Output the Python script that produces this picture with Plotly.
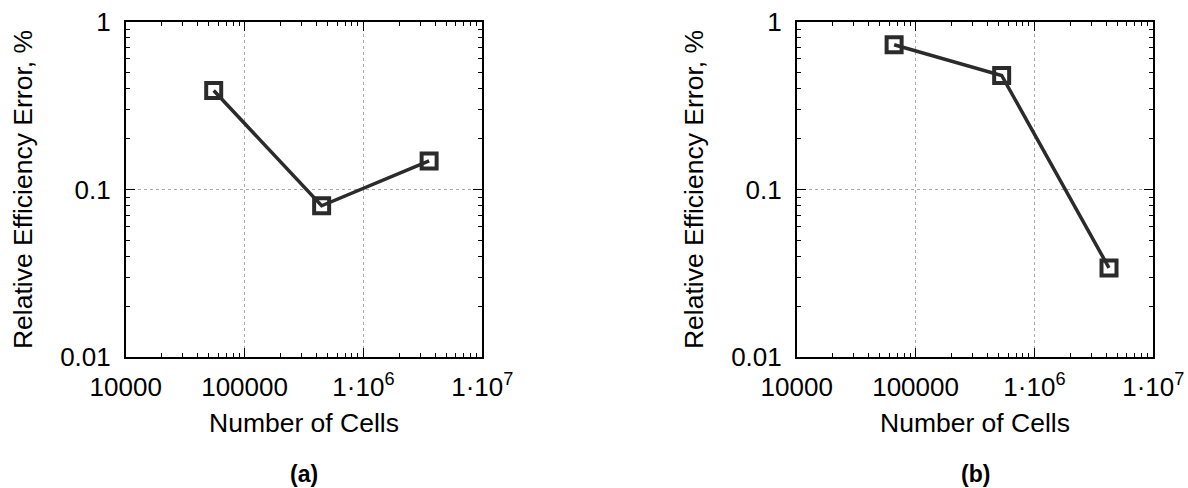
import plotly.graph_objects as go

# Data
cells_a = [55000, 445000, 3570000]
error_a = [0.389, 0.080, 0.148]
cells_b = [66000, 530000, 4240000]
error_b = [0.729, 0.478, 0.0341]

x_tickvals = [1e4, 1e5, 1e6, 1e7]
x_ticktext = ["10000", "100000", "1·10<sup>6</sup>", "1·10<sup>7</sup>"]
y_tickvals = [0.01, 0.1, 1]
y_ticktext = ["0.01", "0.1", "1"]

x_title = "Number of Cells"
y_title = "Relative Efficiency Error, %"
captions = ["(a)", "(b)"]

W, H = 1188, 488
FONT = "Liberation Sans, Arial, sans-serif"
LINE_COLOR = "#2b2b2b"

fig = go.Figure()

for i, (xs, ys) in enumerate([(cells_a, error_a), (cells_b, error_b)]):
    suffix = "" if i == 0 else str(i + 1)
    fig.add_trace(go.Scatter(
        x=xs, y=ys, mode="lines+markers",
        xaxis="x" + suffix, yaxis="y" + suffix,
        line=dict(color=LINE_COLOR, width=3.5),
        marker=dict(symbol="square-open", size=15, color=LINE_COLOR,
                    line=dict(width=4, color=LINE_COLOR)),
        showlegend=False,
    ))

x_domains = [[125.7 / W, 482.3 / W], [796.7 / W, 1153.3 / W]]
y_domain = [(H - 357.3) / H, (H - 21.7) / H]

def xaxis(dom, anchor):
    return dict(
        type="log", range=[4, 7], domain=dom, anchor=anchor, automargin=False,
        tickvals=x_tickvals, ticktext=x_ticktext,
        ticks="inside", ticklen=10, tickwidth=1.3, tickcolor="black",
        minor=dict(ticks="inside", ticklen=5, tickwidth=1.3, tickcolor="black",
                   dtick="D1", showgrid=False),
        showline=True, linecolor="black", linewidth=1.5, mirror="allticks",
        showgrid=True, gridcolor="#ababab", griddash="dot", gridwidth=1,
        zeroline=False,
        tickfont=dict(family=FONT, size=26, color="black"),
        ticklabelstandoff=6,
        title=dict(text=x_title, font=dict(family=FONT, size=26.5, color="black"), standoff=12),
    )

def yaxis(anchor):
    return dict(
        type="log", range=[-2, 0], domain=y_domain, anchor=anchor, automargin=False,
        tickvals=y_tickvals, ticktext=y_ticktext,
        ticks="inside", ticklen=10, tickwidth=1.3, tickcolor="black",
        minor=dict(ticks="inside", ticklen=5, tickwidth=1.3, tickcolor="black",
                   dtick="D1", showgrid=False),
        showline=True, linecolor="black", linewidth=1.5, mirror="allticks",
        showgrid=True, gridcolor="#ababab", griddash="dot", gridwidth=1,
        zeroline=False,
        tickfont=dict(family=FONT, size=26, color="black"),
        ticklabelstandoff=8,
        title=dict(text=y_title, font=dict(family=FONT, size=26.5, color="black"), standoff=20),
    )

annotations = []
for dom, cap in zip(x_domains, captions):
    annotations.append(dict(
        text="<b>" + cap + "</b>", x=(dom[0] + dom[1]) / 2, y=(H - 474) / H,
        xref="paper", yref="paper", showarrow=False,
        xanchor="center", yanchor="middle",
        font=dict(family=FONT, size=23, color="black"),
    ))

fig.update_layout(
    width=W, height=H,
    margin=dict(l=0, r=0, t=0, b=0, autoexpand=False),
    paper_bgcolor="white", plot_bgcolor="white",
    xaxis=xaxis(x_domains[0], "y"),
    yaxis=yaxis("x"),
    xaxis2=xaxis(x_domains[1], "y2"),
    yaxis2=yaxis("x2"),
    annotations=annotations,
    font=dict(family=FONT, color="black"),
)

fig.write_html("out.html")
